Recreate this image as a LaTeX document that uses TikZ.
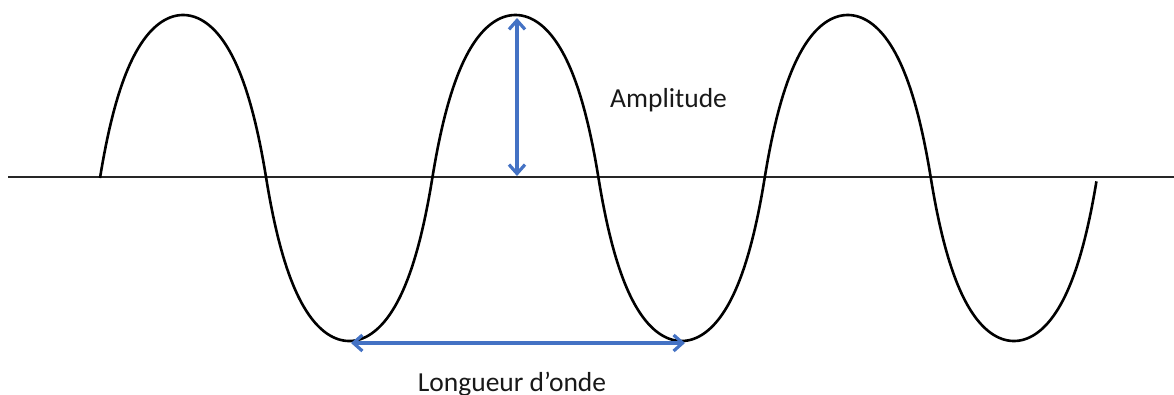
\documentclass[tikz,border=0pt]{standalone}
\usepackage{fontspec}
\setmainfont{Carlito}
\usetikzlibrary{arrows.meta}
\definecolor{arrowblue}{HTML}{4472C4}
\tikzset{
  axisline/.style={line width=1.8pt, black!85},
  waveline/.style={line width=2.6pt, black},
  measure/.style={line width=3.2pt, arrowblue, {Straight Barb[length=9pt,width=16pt]}-{Straight Barb[length=9pt,width=16pt]}},
  label/.style={font=\fontsize{27.5}{30}\selectfont, text=black!90, inner sep=0pt}
}
\begin{document}
\begin{tikzpicture}[x=1pt,y=-1pt]
\useasboundingbox (0,0) rectangle (1174,394);
\fill[white] (0,0) rectangle (1174,394);
\coordinate (axL) at (8,177);
\coordinate (axR) at (1174,177);
\draw[axisline] (axL) -- (axR);
\draw[waveline, line join=round] plot[domain=0:2.9993, samples=500, smooth]
  ({100+332.33*\x}, {178 - 163*2*sin(360*\x)/(1+abs(sin(360*\x)))});
\coordinate (peak) at (517,18);
\coordinate (base) at (517,176);
\coordinate (troughA) at (351,343);
\coordinate (troughB) at (685,343);
\draw[measure] (peak) -- (base);
\draw[measure] (troughA) -- (troughB);
\node[label, anchor=base west] (amp) at (610,107) {Amplitude};
\node[label, anchor=base] (lambda) at (512,391) {Longueur d’onde};
\end{tikzpicture}
\end{document}
